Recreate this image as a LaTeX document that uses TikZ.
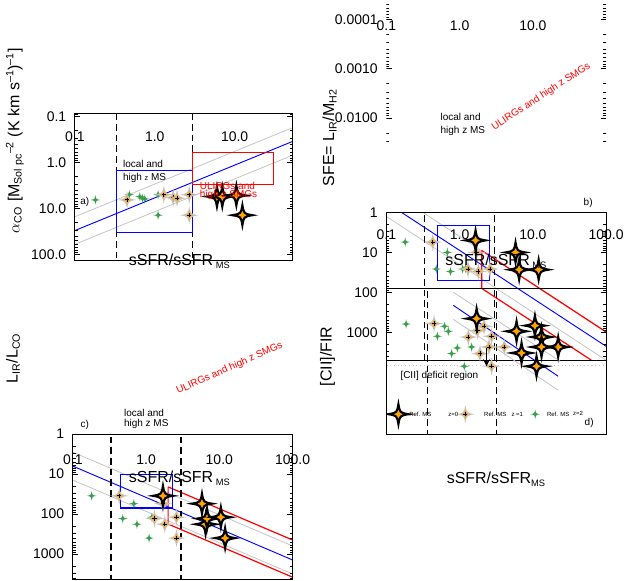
\documentclass[tikz,border=0pt]{standalone}
\usepackage{fontspec}
\setmainfont{Liberation Sans}
\definecolor{myorange}{HTML}{FFA500}
\definecolor{mygray}{HTML}{C4C4C4}
\definecolor{mygreen}{HTML}{3A9E4A}
\newcommand\fourstar[3]{\path[#1,shift={(#2)}] (#3,0pt) .. controls (0.15*#3,0.15*#3) .. (0pt,#3) .. controls (-0.15*#3,0.15*#3) .. (-#3,0pt) .. controls (-0.15*#3,-0.15*#3) .. (0pt,-#3) .. controls (0.15*#3,-0.15*#3) .. cycle;}
\newcommand\mzero[1]{\fourstar{draw=black,line width=1.6pt,fill=myorange}{#1}{7.5pt}}
\newcommand\mone[1]{\fourstar{fill=mygray}{#1}{7pt}\fourstar{fill=myorange}{#1}{3.8pt}%
 \draw[black,line width=0.7pt,shift={(#1)}] (-1.6pt,0pt)--(1.6pt,0pt) (0pt,-1.6pt)--(0pt,1.6pt);}
\newcommand\mtwo[1]{\fourstar{fill=mygreen}{#1}{3.6pt}}
\newcommand\Zs[2]{\mzero{{log10(#1)},{log10(#2)}}}
\newcommand\Os[2]{\mone{{log10(#1)},{log10(#2)}}}
\newcommand\Ts[2]{\mtwo{{log10(#1)},{log10(#2)}}}
\newcommand\logticks[4]{\begin{scope}\clip (#1,#3) rectangle (#2,#4);
 \foreach \i in {-5,...,4}{\foreach \m/\L in {0/4,0.301/2,0.477/2,0.602/2,0.699/2,0.778/2,0.845/2,0.903/2,0.954/2}{
 \draw[line width=0.6pt] ({\i+\m},#3) -- ++(0,\L pt) ({\i+\m},#4) -- ++(0,-\L pt) (#1,{\i+\m}) -- ++(\L pt,0) (#2,{\i+\m}) -- ++(-\L pt,0);}}
 \end{scope}}
\tikzset{frame/.style={draw=black,line width=0.8pt},
 dashl/.style={black,line width=0.9pt,dash pattern=on 5pt off 3pt},
 grayl/.style={draw=mygray,line width=0.6pt},
 bluel/.style={draw=blue,line width=0.7pt},
 redl/.style={draw=red,line width=0.9pt},
 ticklab/.style={font=\fontsize{10.5}{12}\selectfont},
 axtitle/.style={font=\fontsize{12}{14}\selectfont},
 inner/.style={font=\fontsize{7.5}{9}\selectfont,inner sep=0pt},
 leg/.style={font=\fontsize{4.5}{5}\selectfont,inner sep=0pt}}
\begin{document}
\begin{tikzpicture}[x=0.75pt,y=-0.75pt]
\path (0,0) rectangle (628,471);
% ---------- panel a
\begin{scope}[shift={(155,122)}]\begin{scope}[x=60pt,y=-34.5pt]
\begin{scope}\clip (-1,-1.065) rectangle (1.725,2.13);
\draw[grayl] (-1,1.78)--(1.725,-0.16) (-1,1.18)--(1.725,-0.76);
\draw[bluel] (-1,1.48)--(1.725,-0.46);
\draw[dashl] (-0.48,-2)--(-0.48,3) (0.477,-2)--(0.477,3);
\draw[blue,line width=0.9pt] (-0.48,0.176) rectangle (0.477,1.52);
\draw[redl] (0.477,-0.22) rectangle (1.49,0.477);
\Ts{0.18}{6.5}\Ts{0.48}{5}\Ts{0.65}{5.5}\Ts{0.7}{6}\Ts{0.75}{6.2}\Ts{1.1}{14}\Ts{1.1}{5}
\Os{0.45}{6.5}\Os{1.3}{5}\Os{1.7}{5.8}\Os{1.9}{6}\Os{2.7}{14}\Os{2.7}{5}
\Zs{6}{5.5}\Zs{7}{5.5}\Zs{10.5}{5.2}\Zs{12.5}{14}
\end{scope}
\logticks{-1}{1.725}{-1.065}{2.13}
\draw[frame] (-1,-1.065) rectangle (1.725,2.13);
\foreach \v/\t in {-1/0.1,0/1.0,1/10.0}{\node[ticklab] at (\v,-1.065) [yshift=-17pt] {\t};}
\foreach \v/\t in {-1/0.1,0/1.0,1/10.0,2/100.0}{\node[ticklab,anchor=east] at (-1,\v) [xshift=-3pt] {\t};}
\end{scope}\end{scope}
\node[inner,anchor=west] (la1) at (123,123) {local and};
\node[inner,anchor=west] (la2) at (123,137) {high {\fontsize{5.5}{6}\selectfont z} MS};
\node[inner,anchor=west,text=red] (ua1) at (200,145) {ULIRGs and};
\node[inner,anchor=west,text=red] (ua2) at (200,154) {high z SMGs};
\node[inner] (pa) at (85,161) {a)};
\node[axtitle] (xa) at (180,221) {sSFR/sSFR\,\textsubscript{\fontsize{7}{8}\selectfont MS}};
\node[axtitle,rotate=90] (ya) at (15,100) {$\alpha$\textsubscript{CO} [M\textsubscript{Sol pc}\textsuperscript{--2} (K km s\textsuperscript{--1})\textsuperscript{--1}]};
% ---------- panel b
\begin{scope}[shift={(460.3,172)}]\begin{scope}[x=55pt,y=-30pt]
\begin{scope}\clip (-1,0) rectangle (2,3.7);
\draw[grayl] (-1,0.1)--(2,3.7) (-1,-0.6)--(2,3.0);
\draw[bluel] (-1,-0.25)--(2,3.35);
\draw[redl] (0.301,0.95)--(0.301,1.9)--(2,3.94) (0.301,0.95)--(2,2.99);
\draw[dashl] (-0.48,-1)--(-0.48,4) (0.477,-1)--(0.477,4);
\draw[blue,line width=0.9pt] (-0.3,0.32) rectangle (0.41,1.7);
\Ts{0.18}{5.5}\Ts{0.48}{26}\Ts{0.68}{10}\Ts{0.75}{30}\Ts{1.1}{26}\Ts{1.2}{25}
\Os{0.43}{5.5}\Os{1.3}{26}\Os{1.8}{30}\Os{1.7}{10}\Os{2.6}{26}
\Zs{1.65}{5}\Zs{6.5}{27}\Zs{5.8}{10}\Zs{12}{27}
\end{scope}
\logticks{-1}{2}{0}{3.7}
\draw[frame] (-1,0) rectangle (2,3.7);
\foreach \v/\t in {-1/0.1,0/1.0,1/10.0,2/100.0}{\node[ticklab] at (\v,0) [yshift=-17pt] {\t};}
\foreach \v/\t in {0/1,1/10,2/100,3/1000}{\node[ticklab,anchor=east] at (-1,\v) [xshift=-3pt] {\t};}
\end{scope}\end{scope}
\node[inner,anchor=west] (lb1) at (441,76) {local and};
\node[inner,anchor=west] (lb2) at (441,90) {high z MS};
\node[inner,text=red,rotate=33] (ub) at (542,56) {ULIRGs and high z SMGs};
\node[inner] (pb) at (589,162) {b)};
\node[axtitle] (xb) at (497,221) {sSFR/sSFR\,\textsubscript{\fontsize{7}{8}\selectfont MS}};
\node[axtitle,rotate=90] (yb) at (330,97) {SFE= L\textsubscript{IR}/M\textsubscript{H2}};
% ---------- panel c
\begin{scope}[shift={(146.3,394)}]\begin{scope}[x=55pt,y=-30pt]
\begin{scope}\clip (-1,0) rectangle (2,3.65);
\draw[grayl] (-1,1.15)--(2,3.5) (-1,0.45)--(2,2.8);
\draw[bluel] (-1,0.8)--(2,3.15);
\draw[redl] (0.301,1.32)--(0.301,2.25)--(2,3.58) (0.301,1.32)--(2,2.65);
\draw[dashl] (-0.48,-1)--(-0.48,4) (0.477,-1)--(0.477,4);
\draw[blue,line width=0.9pt] (-0.35,1.0) rectangle (0.36,1.85);
\Ts{0.18}{35}\Ts{0.48}{130}\Ts{0.68}{55}\Ts{0.75}{180}\Ts{1.1}{400}\Ts{1.2}{120}
\Os{0.43}{35}\Os{1.3}{130}\Os{1.8}{180}\Os{1.7}{55}\Os{2.6}{400}\Os{2.6}{120}
\Zs{1.7}{35}\Zs{6.5}{180}\Zs{6.8}{130}\Zs{5.8}{55}\Zs{10.5}{120}\Zs{12}{400}
\end{scope}
\logticks{-1}{2}{0}{3.65}
\draw[frame] (-1,0) rectangle (2,3.65);
\foreach \v/\t in {-1/0.1,0/1.0,1/10.0,2/100.0}{\node[ticklab] at (\v,0) [yshift=-19pt] {\t};}
\foreach \v/\t in {0/1,1/10,2/100,3/1000}{\node[ticklab,anchor=east] at (-1,\v) [xshift=-3pt] {\t};}
\end{scope}\end{scope}
\node[inner,anchor=west] (lc1) at (124,373) {local and};
\node[inner,anchor=west] (lc2) at (124,384) {high z MS};
\node[inner,text=red,rotate=24] (uc) at (230,328) {ULIRGs and high z SMGs};
\node[inner] (pc) at (85,385) {c)};
\node[axtitle] (xc) at (180,438) {sSFR/sSFR\,\textsubscript{\fontsize{7}{8}\selectfont MS}};
\node[axtitle,rotate=90] (yc) at (13,318) {L\textsubscript{IR}/L\textsubscript{CO}};
% ---------- panel d
\begin{scope}
\clip (387,248) rectangle (607,394);
\draw[mygray,dotted,line width=0.8pt] (387,325)--(607,325);
\draw[grayl] (454,252)--(561,321) (454,279)--(559,350);
\draw[bluel] (454,265)--(559,336);
\draw[dashl] (428,240)--(428,400) (497,240)--(497,400);
\foreach \a/\b in {406.7/283.7,438/296,445.3/286,449/291,452.3/313.3,458/307.7,465/326,469/296.7,472.3/306.7}{\mtwo{\a,\b}}
\foreach \a/\b in {434.7/283.3,469/296.7,478.3/290.3,484.7/286,492.3/296,489.7/306.7,480.7/313.3,492.3/326,505/306.7}{\mone{\a,\b}}
\foreach \a/\b in {477.3/278.3,517.3/291,535.7/285.3,542.3/296.7,559/306.7,522.3/312.7,542.3/306.7,537.3/326}{\mzero{\a,\b}}
\coordinate (ar1) at (487.3,307.7); \coordinate (ar2) at (487.3,326);
\draw[black,line width=1.3pt,-stealth] (ar1)--(ar2);
\mzero{399,374}\mone{466,374}\mtwo{536,374}
\end{scope}
\draw[frame] (387,248) rectangle (607,394);
\begin{scope}[shift={(460.3,176.5)}]\begin{scope}[x=55pt,y=-37.125pt]
\logticks{-1}{2}{-4.39}{-1.44}
\foreach \v/\t in {-1/0.1,0/1.0,1/10.0}{\node[ticklab] at (\v,-4.39) [yshift=-19pt] {\t};}
\foreach \v/\t in {-4/0.0001,-3/0.0010,-2/0.0100}{\node[ticklab,anchor=east] at (-1,\v) [xshift=-3pt] {\t};}
\end{scope}\end{scope}
\node[leg] (l1) at (421,374) {Ref. MS}; \node[leg] (l1z) at (454,374) {z=0};
\node[leg] (l2) at (496,374) {Ref. MS}; \node[leg] (l2z) at (518,374) {z =1};
\node[leg] (l3) at (559,374) {Ref. MS}; \node[leg] (l3z) at (579,373) {z=2};
\node[inner] (pd) at (590,383) {d)};
\node[inner] (cii) at (440,336) {[CII] deficit region};
\node[axtitle] (xd) at (497,439) {sSFR/sSFR\textsubscript{\fontsize{7}{8}\selectfont MS}};
\node[axtitle,rotate=90] (yd) at (328,316) {[CII]/FIR};
\end{tikzpicture}
\end{document}
